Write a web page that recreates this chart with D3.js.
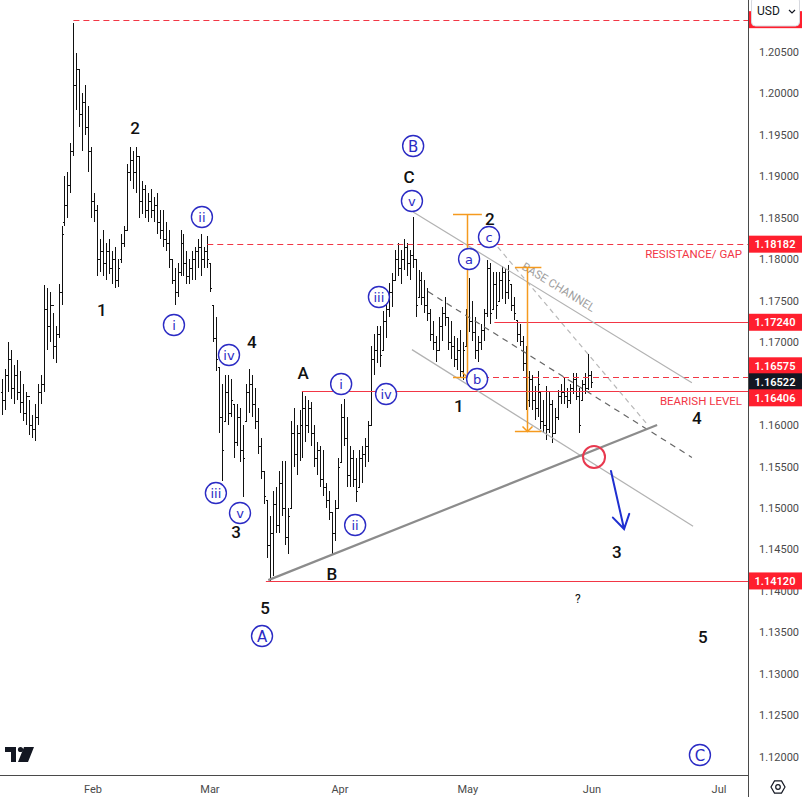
<!DOCTYPE html>
<html><head><meta charset="utf-8">
<script src="https://cdn.jsdelivr.net/npm/d3@7"></script>
<style>body{margin:0;background:#fff;} svg{display:block;font-family:Roboto,"Noto Sans",sans-serif;}</style>
</head><body><svg id="c" width="802" height="797"></svg>
<script>
// ---------------- DATA ----------------
const opens = [1.1640,1.1630,1.1660,1.1680,1.1645,1.1660,1.1640,1.1628,1.1615,1.1635,1.1600,1.1595,1.1610,1.1640,1.1650,1.1740,1.1720,1.1745,1.1695,1.1710,
1.1760,1.1845,1.1865,1.1890,1.1930,1.2010,1.2030,1.1975,1.1990,1.1960,1.1930,1.1870,1.1860,1.1800,1.1810,1.1795,1.1810,1.1790,1.1800,1.1775,
1.1800,1.1820,1.1835,1.1905,1.1920,1.1905,1.1925,1.1870,1.1885,1.1860,1.1870,1.1860,1.1865,1.1845,1.1835,1.1825,1.1820,1.1800,1.1775,1.1760,
1.1785,1.1820,1.1795,1.1780,1.1790,1.1800,1.1810,1.1815,1.1800,1.1810,1.1795,1.1745,1.1705,1.1670,1.1610,1.1605,1.1640,1.1615,1.1625,1.1580,
1.1610,1.1570,1.1605,1.1640,1.1650,1.1625,1.1605,1.1575,1.1545,1.1510,1.1455,1.1470,1.1505,1.1480,1.1530,1.1500,1.1465,1.1500,1.1590,1.1565,
1.1590,1.1600,1.1620,1.1600,1.1620,1.1590,1.1560,1.1570,1.1535,1.1525,1.1510,1.1495,1.1470,1.1500,1.1555,1.1610,1.1585,1.1540,1.1560,1.1535,
1.1525,1.1560,1.1565,1.1575,1.1600,1.1680,1.1690,1.1710,1.1690,1.1725,1.1740,1.1760,1.1775,1.1800,1.1790,1.1800,1.1815,1.1795,1.1805,1.1800,
1.1755,1.1775,1.1755,1.1745,1.1735,1.1710,1.1700,1.1690,1.1720,1.1735,1.1730,1.1700,1.1695,1.1680,1.1690,1.1665,1.1695,1.1730,1.1725,1.1712,
1.1690,1.1700,1.1715,1.1735,1.1790,1.1740,1.1770,1.1750,1.1775,1.1785,1.1760,1.1770,1.1745,1.1727,1.1710,1.1702,1.1675,1.1630,1.1655,1.1630,
1.1620,1.1640,1.1605,1.1600,1.1595,1.1625,1.1590,1.1610,1.1635,1.1640,1.1635,1.1630,1.1645,1.1655,1.1635,1.1630,1.1650,1.1645,1.1660];
const highs = [1.1655,1.1668,1.1700,1.1690,1.1672,1.1678,1.1665,1.1650,1.1640,1.1630,1.1612,1.1625,1.1650,1.1660,1.1769,1.1765,1.1760,1.1735,1.1720,1.1770,
1.1840,1.1900,1.1905,1.1940,1.2085,1.2049,1.2030,1.2000,1.2010,1.1985,1.1935,1.1880,1.1865,1.1825,1.1835,1.1820,1.1825,1.1810,1.1815,1.1800,
1.1830,1.1840,1.1915,1.1935,1.1930,1.1935,1.1925,1.1895,1.1890,1.1880,1.1885,1.1875,1.1880,1.1860,1.1860,1.1845,1.1835,1.1800,1.1790,1.1795,
1.1835,1.1830,1.1810,1.1800,1.1810,1.1815,1.1825,1.1830,1.1815,1.1828,1.1795,1.1745,1.1730,1.1670,1.1650,1.1660,1.1660,1.1655,1.1625,1.1625,
1.1620,1.1600,1.1650,1.1668,1.1660,1.1645,1.1620,1.1585,1.1545,1.1510,1.1490,1.1520,1.1525,1.1545,1.1557,1.1557,1.1500,1.1605,1.1620,1.1600,
1.1618,1.1640,1.1635,1.1630,1.1628,1.1600,1.1580,1.1575,1.1570,1.1530,1.1520,1.1495,1.1510,1.1560,1.1625,1.1632,1.1610,1.1575,1.1570,1.1560,
1.1570,1.1575,1.1585,1.1605,1.1695,1.1710,1.1720,1.1720,1.1738,1.1750,1.1771,1.1783,1.1811,1.1820,1.1811,1.1825,1.1820,1.1811,1.1851,1.1800,
1.1787,1.1785,1.1775,1.1765,1.1740,1.1725,1.1708,1.1730,1.1743,1.1755,1.1730,1.1725,1.1708,1.1705,1.1715,1.1700,1.1740,1.1778,1.1750,1.1730,
1.1708,1.1722,1.1740,1.1799,1.1795,1.1785,1.1785,1.1785,1.1792,1.1790,1.1793,1.1770,1.1755,1.1727,1.1722,1.1708,1.1695,1.1665,1.1660,1.1647,
1.1665,1.1640,1.1630,1.1647,1.1640,1.1630,1.1620,1.1642,1.1650,1.1657,1.1645,1.1650,1.1663,1.1663,1.1645,1.1654,1.1663,1.1686,1.1665];
const lows = [1.1612,1.1618,1.1640,1.1632,1.1625,1.1630,1.1615,1.1605,1.1600,1.1588,1.1585,1.1581,1.1600,1.1625,1.1640,1.1690,1.1700,1.1680,1.1675,1.1705,
1.1745,1.1840,1.1850,1.1880,1.1925,1.1980,1.1960,1.1930,1.1950,1.1905,1.1850,1.1845,1.1780,1.1785,1.1780,1.1775,1.1782,1.1770,1.1765,1.1766,
1.1795,1.1815,1.1835,1.1895,1.1885,1.1880,1.1850,1.1855,1.1850,1.1845,1.1850,1.1845,1.1830,1.1825,1.1815,1.1810,1.1790,1.1770,1.1745,1.1755,
1.1780,1.1780,1.1770,1.1770,1.1775,1.1775,1.1790,1.1780,1.1790,1.1790,1.1760,1.1700,1.1665,1.1590,1.1533,1.1605,1.1600,1.1610,1.1560,1.1575,
1.1555,1.1513,1.1605,1.1615,1.1610,1.1595,1.1565,1.1535,1.1505,1.1440,1.1412,1.1418,1.1470,1.1470,1.1490,1.1455,1.1445,1.1500,1.1550,1.1540,
1.1557,1.1560,1.1580,1.1590,1.1575,1.1550,1.1540,1.1525,1.1515,1.1500,1.1485,1.1445,1.1460,1.1500,1.1555,1.1575,1.1525,1.1525,1.1525,1.1507,
1.1525,1.1530,1.1550,1.1555,1.1600,1.1660,1.1675,1.1670,1.1690,1.1705,1.1730,1.1742,1.1775,1.1780,1.1770,1.1787,1.1780,1.1775,1.1790,1.1730,
1.1755,1.1745,1.1735,1.1725,1.1702,1.1690,1.1676,1.1690,1.1702,1.1720,1.1690,1.1680,1.1670,1.1666,1.1657,1.1654,1.1695,1.1712,1.1702,1.1680,
1.1676,1.1690,1.1702,1.1730,1.1722,1.1740,1.1728,1.1750,1.1752,1.1746,1.1752,1.1737,1.1727,1.1700,1.1695,1.1665,1.1618,1.1622,1.1618,1.1606,
1.1610,1.1595,1.1590,1.1582,1.1590,1.1578,1.1590,1.1606,1.1626,1.1626,1.1620,1.1626,1.1638,1.1630,1.1590,1.1630,1.1638,1.1642,1.1645];
const closes = [1.1630,1.1660,1.1680,1.1645,1.1660,1.1640,1.1628,1.1615,1.1635,1.1600,1.1595,1.1610,1.1640,1.1650,1.1740,1.1720,1.1745,1.1695,1.1710,1.1760,
1.1830,1.1865,1.1890,1.1930,1.2010,1.2030,1.1975,1.1990,1.1960,1.1930,1.1870,1.1860,1.1800,1.1810,1.1795,1.1810,1.1790,1.1800,1.1775,1.1790,
1.1820,1.1835,1.1905,1.1920,1.1905,1.1925,1.1870,1.1885,1.1860,1.1870,1.1860,1.1865,1.1845,1.1835,1.1825,1.1820,1.1800,1.1775,1.1760,1.1785,
1.1820,1.1795,1.1780,1.1790,1.1800,1.1810,1.1815,1.1800,1.1810,1.1800,1.1765,1.1705,1.1680,1.1610,1.1570,1.1640,1.1615,1.1630,1.1580,1.1610,
1.1570,1.1560,1.1640,1.1650,1.1625,1.1605,1.1575,1.1545,1.1515,1.1455,1.1470,1.1505,1.1480,1.1530,1.1500,1.1465,1.1490,1.1590,1.1565,1.1590,
1.1600,1.1620,1.1600,1.1620,1.1590,1.1560,1.1570,1.1535,1.1525,1.1510,1.1495,1.1470,1.1500,1.1550,1.1610,1.1585,1.1540,1.1560,1.1535,1.1520,
1.1560,1.1565,1.1575,1.1600,1.1680,1.1690,1.1710,1.1685,1.1725,1.1740,1.1760,1.1775,1.1800,1.1790,1.1800,1.1815,1.1795,1.1805,1.1800,1.1745,
1.1775,1.1755,1.1745,1.1735,1.1710,1.1700,1.1690,1.1720,1.1735,1.1730,1.1700,1.1695,1.1680,1.1690,1.1665,1.1690,1.1730,1.1725,1.1712,1.1690,
1.1700,1.1715,1.1735,1.1790,1.1735,1.1770,1.1745,1.1775,1.1785,1.1760,1.1775,1.1745,1.1735,1.1710,1.1702,1.1675,1.1630,1.1655,1.1630,1.1620,
1.1650,1.1605,1.1600,1.1595,1.1625,1.1590,1.1610,1.1635,1.1640,1.1635,1.1630,1.1645,1.1655,1.1635,1.1600,1.1650,1.1645,1.1660,1.16522];

const monthLabels = ["Feb","Mar","Apr","May","Jun","Jul"];
const monthBarIndex = [30.6, 69.9, 113.6, 156.6, 198.3, 241.0];
const yTickValues = d3.range(1.12, 1.2051, 0.005);

// horizontal levels: price, start bar, dashed
const levelPrices = [1.2089, 1.18182, 1.17240, 1.16575, 1.16406, 1.14120];
const levelStart  = [24, 69, 165.5, 151.6, 100.8, 88.7];
const levelDashed = [true, true, false, true, false, false];
const currentPrice = 1.16522;
const levelNotes = [{text:"RESISTANCE/ GAP", price:1.18182}, {text:"BEARISH LEVEL", price:1.16406}];

// sloped lines [bar1, price1, bar2, price2]
const trendLine   = [89.5, 1.1413, 220.2, 1.1600];
const channelUp   = [138.2, 1.1857, 231.9, 1.1651];
const channelDown = [137.8, 1.1691, 232.3, 1.1478];
const channelMid  = [143.2, 1.1761, 231.9, 1.1561];
const steepDash   = [164.7, 1.1823, 217.1, 1.1600];

// orange price ranges: [bar left, bar right, bar stem, top, bottom]
const ranges = [[151.6, 161.3, 156.3, 1.18546, 1.16575], [172.4, 181.3, 176.5, 1.1791, 1.1593]];
const breakCircle = [199, 1.15615];
const blueArrow = [204.7, 1.15446, 209.1, 1.14746];

const circledLabels = [
 ["ii",67.2,1.18510],["i",57.8,1.17207],["iv",76.3,1.16845],["iii",71.9,1.15180],["v",80.0,1.14939],["A",87.4,1.13455],
 ["i",114.0,1.16495],["iv",129.1,1.16374],["ii",118.7,1.14794],["iii",126.7,1.17545],["v",137.8,1.18703],["B",138.2,1.19366],
 ["a",157.0,1.18003],["c",163.7,1.18268],["b",159.7,1.16555],["C",234.6,1.12020]];
const plainLabels = [
 ["2",44.7,1.19583],["1",33.6,1.17388],["4",84.0,1.17002],["3",78.7,1.14710],["5",88.4,1.13793],["A",101.2,1.16628],
 ["B",110.9,1.14203],["C",136.8,1.18992],["2",164.0,1.18485],["1",153.6,1.16230],["4",233.6,1.16085],["3",206.7,1.14469],
 ["?",193.6,1.13901],["5",235.6,1.13443]];

// ---------------- DRAW ----------------
const W = 802, H = 797, plotR = 748, plotB = 775;
const svg = d3.select("#c");
const x = d3.scaleLinear().domain([0, 241]).range([2, 2 + 241 * 2.975]);
const y = d3.scaleLinear().domain([1.12, 1.205]).range([756.7, 52]);
const RED = "#f23645", LBLRED = "#ff1f2e", BLUE = "#2b2bc4", ORANGE = "#f59a1e";

svg.append("defs").append("clipPath").attr("id","plot").append("rect").attr("x",0).attr("y",0).attr("width",plotR).attr("height",plotB);
const g = svg.append("g").attr("clip-path","url(#plot)");

// OHLC bars (drawn first, annotations on top)
const bars = g.append("g").attr("stroke","#111").attr("stroke-width",1).attr("shape-rendering","crispEdges");
closes.forEach((c,i)=>{
  const xi = Math.round(x(i))+0.5;
  bars.append("line").attr("x1",xi).attr("x2",xi).attr("y1",y(highs[i])).attr("y2",y(lows[i]));
  bars.append("line").attr("x1",xi-1.5).attr("x2",xi).attr("y1",Math.round(y(opens[i]))+0.5).attr("y2",Math.round(y(opens[i]))+0.5);
  bars.append("line").attr("x1",xi).attr("x2",xi+1.5).attr("y1",Math.round(y(c))+0.5).attr("y2",Math.round(y(c))+0.5);
});

// levels
levelPrices.forEach((p,k)=>{
  g.append("line").attr("x1",x(levelStart[k])).attr("x2",plotR).attr("y1",Math.round(y(p))+0.5).attr("y2",Math.round(y(p))+0.5)
   .attr("stroke",RED).attr("stroke-width",1.2).attr("stroke-dasharray",levelDashed[k]?"6,4":null);
});
levelNotes.forEach(n=>{
  g.append("text").attr("x",742).attr("y",y(n.price)+14).attr("text-anchor","end").attr("fill",RED)
   .attr("font-size",11.5).text(n.text);
});

// sloped lines
function seg(a, stroke, w, dash){
  return g.append("line").attr("x1",x(a[0])).attr("y1",y(a[1])).attr("x2",x(a[2])).attr("y2",y(a[3]))
   .attr("stroke",stroke).attr("stroke-width",w).attr("stroke-dasharray",dash||null);
}
seg(channelUp, "#b2b2b2", 1.2);
seg(channelDown, "#b2b2b2", 1.2);
seg(channelMid, "#666", 1.2, "6,5");
seg(steepDash, "#b8b8b8", 1.2, "5,4");
seg(trendLine, "#8c8c8c", 2.2);

// BASE CHANNEL text
{
  const ang = Math.atan2(y(channelUp[3])-y(channelUp[1]), x(channelUp[2])-x(channelUp[0]))*180/Math.PI;
  const t = 0.5, cx = x(channelUp[0])+(x(channelUp[2])-x(channelUp[0]))*t, cy = y(channelUp[1])+(y(channelUp[3])-y(channelUp[1]))*t;
  g.append("text").attr("transform",`translate(${cx+4},${cy-7}) rotate(${ang})`).attr("text-anchor","middle")
   .attr("fill","#a0a0a0").attr("font-size",11.5).text("BASE CHANNEL");
}

// orange ranges
ranges.forEach(r=>{
  const [l,rr,s,top,bot] = r;
  const yt = Math.round(y(top))+0.5, yb = Math.round(y(bot))+0.5, xs = Math.round(x(s))+0.5;
  const og = g.append("g").attr("stroke",ORANGE).attr("stroke-width",1.5).attr("fill","none");
  og.append("line").attr("x1",x(l)).attr("x2",x(rr)).attr("y1",yt).attr("y2",yt);
  og.append("line").attr("x1",x(l)).attr("x2",x(rr)).attr("y1",yb).attr("y2",yb);
  og.append("line").attr("x1",xs).attr("x2",xs).attr("y1",yt).attr("y2",yb);
  og.append("path").attr("d",`M${xs-5},${yb-5}L${xs},${yb}L${xs+5},${yb-5}`);
});

// red circle
g.append("circle").attr("cx",x(breakCircle[0])).attr("cy",y(breakCircle[1])).attr("r",11)
 .attr("fill","none").attr("stroke","#e8394f").attr("stroke-width",2);

// blue arrow
{
  const x1=x(blueArrow[0]), y1=y(blueArrow[1]), x2=x(blueArrow[2]), y2=y(blueArrow[3]);
  const a = Math.atan2(y2-y1, x2-x1), L=16, sp=0.55;
  g.append("path").attr("d",`M${x1},${y1}L${x2},${y2}M${x2-L*Math.cos(a-sp)},${y2-L*Math.sin(a-sp)}L${x2},${y2}L${x2-L*Math.cos(a+sp)},${y2-L*Math.sin(a+sp)}`)
   .attr("fill","none").attr("stroke","#1f2fd0").attr("stroke-width",2).attr("stroke-linecap","round");
}

// circled labels
circledLabels.forEach(([t,b,p])=>{
  const cx=x(b), cy=y(p);
  g.append("circle").attr("cx",cx).attr("cy",cy).attr("r",10.5).attr("fill","#fff").attr("stroke",BLUE).attr("stroke-width",1.4);
  g.append("text").attr("x",cx).attr("y",cy+0.5).attr("text-anchor","middle").attr("dominant-baseline","central")
   .attr("fill",BLUE).attr("font-size", /[ABC]/.test(t)?15:13).attr("font-family","'DejaVu Sans',sans-serif").text(t);
});
// plain labels
plainLabels.forEach(([t,b,p])=>{
  g.append("text").attr("x",x(b)).attr("y",y(p)).attr("text-anchor","middle").attr("dominant-baseline","central")
   .attr("fill","#111").attr("font-size", t==="?"?12:17).attr("font-weight", t==="?"?400:500).text(t);
});

// TV logo
svg.append("path").attr("d","M5,747H16V762H11V752H5Z M24,747H34L28,762H18Z").attr("fill","#131722");
svg.append("circle").attr("cx",20.5).attr("cy",749.5).attr("r",2.6).attr("fill","#131722");

// axes frame
svg.append("line").attr("x1",plotR+0.5).attr("x2",plotR+0.5).attr("y1",0).attr("y2",H).attr("stroke","#4a4a4a");
svg.append("line").attr("x1",0).attr("x2",plotR).attr("y1",plotB+0.5).attr("y2",plotB+0.5).attr("stroke","#4a4a4a");

// month labels
monthLabels.forEach((m,k)=>{
  svg.append("text").attr("x",x(monthBarIndex[k])).attr("y",793).attr("text-anchor","middle").attr("fill","#4a4a4a").attr("font-size",11).text(m);
});

// price labels positions (collision shift around current price)
const items = levelPrices.map((p,k)=>({p, yy:y(p), cur:false, hidden:k===0})).concat([{p:currentPrice, yy:y(currentPrice), cur:true}]);
items.sort((a,b)=>a.yy-b.yy);
{
  const ci = items.findIndex(d=>d.cur), gap=16;
  for(let k=ci-1;k>=0;k--) if(items[k].yy>items[k+1].yy-gap) items[k].yy=items[k+1].yy-gap;
  for(let k=ci+1;k<items.length;k++) if(items[k].yy<items[k-1].yy+gap) items[k].yy=items[k-1].yy+gap;
}

// y tick labels (skip those fully hidden behind a price label)
const visibleTicks = yTickValues.filter(v=>!items.some(d=>Math.abs(d.yy-y(v))<5));
const yAxis = d3.axisRight(y).tickValues(visibleTicks).tickFormat(d3.format(".5f")).tickSize(0).tickPadding(10);
const ya = svg.append("g").attr("transform",`translate(${plotR+1},0)`).call(yAxis);
ya.select(".domain").remove();
ya.selectAll("text").attr("fill","#4a4a4a").attr("font-size",11).attr("font-family","Roboto,sans-serif");

items.forEach(d=>{
  svg.append("rect").attr("x",plotR+1).attr("y",d.yy-8.5).attr("width",W-plotR-1).attr("height",17)
    .attr("fill", d.cur?"#131722":LBLRED);
  if(!d.hidden)
    svg.append("text").attr("x",775).attr("y",d.yy+0.5).attr("text-anchor","middle").attr("dominant-baseline","central")
      .attr("fill","#fff").attr("font-size",11).attr("font-weight",600).text(d3.format(".5f")(d.p));
});

// USD box
svg.append("rect").attr("x",751.5).attr("y",-3).attr("width",48).attr("height",29).attr("rx",4).attr("fill","#fff").attr("stroke","#d6d8de");
svg.append("text").attr("x",757).attr("y",15).attr("fill","#131722").attr("font-size",12).text("USD");
svg.append("path").attr("d","M789,10l3,3l3,-3").attr("fill","none").attr("stroke","#131722").attr("stroke-width",1.2);

// settings icon
{
  const cx=778, cy=787, r=7;
  const pts = d3.range(6).map(k=>[cx+r*Math.cos(Math.PI/3*k), cy+r*Math.sin(Math.PI/3*k)]);
  svg.append("path").attr("d","M"+pts.join("L")+"Z").attr("fill","none").attr("stroke","#131722").attr("stroke-width",1.2);
  svg.append("circle").attr("cx",cx).attr("cy",cy).attr("r",2.3).attr("fill","none").attr("stroke","#131722").attr("stroke-width",1.2);
}
</script></body></html>
